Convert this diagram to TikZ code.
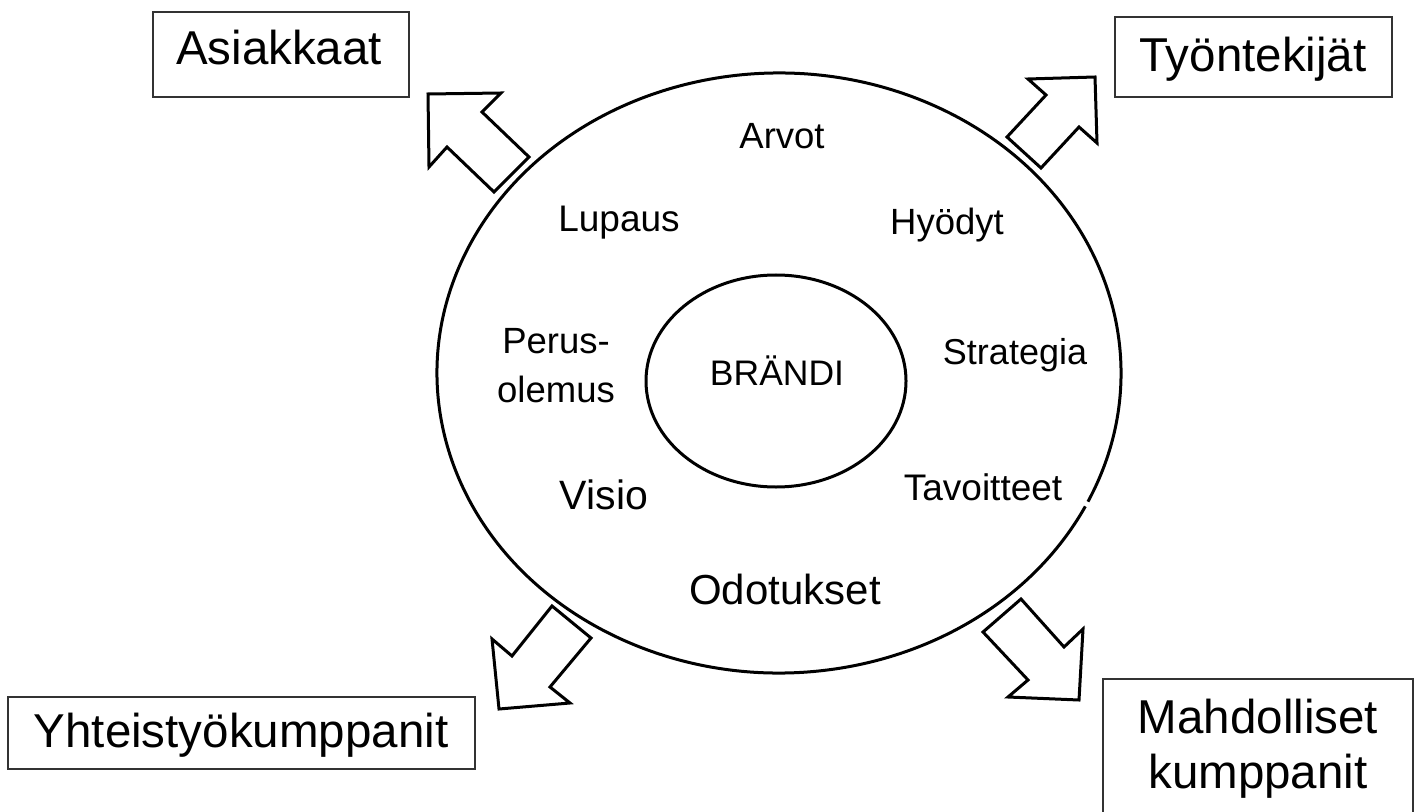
\documentclass[tikz,border=0pt]{standalone}
\usepackage{fontspec}
\setmainfont{Liberation Sans}
\usetikzlibrary{fit}
\newcommand\pxsize[1]{\fontsize{#1}{#1}\selectfont}

\begin{document}
\begin{tikzpicture}[x=0.5pt, y=-0.5pt,
    ring/.style={draw, line width=1.5pt},
    blockarrow/.style={draw, line width=1.5pt, line join=miter, fill=white},
    box/.style={draw=black!80, line width=0.9pt, inner sep=0pt},
    txt/.style={anchor=base, inner sep=0pt},
    big/.style={txt, font=\pxsize{23.75}},
    mid/.style={txt, font=\pxsize{18.25}}]
  \useasboundingbox (0,0) rectangle (1416,812);
  \clip (0,0) rectangle (1416,812);

  % outer ring, with the small break on its lower right side
  \coordinate (ringc) at (779,373);
  \draw[ring] (ringc) ++(26.4:342 and 300) arc[start angle=26.4, end angle=385.4, x radius=342, y radius=300];
  % inner ring around the brand
  \draw[ring] (776,381) ellipse[x radius=130, y radius=106];

  % labels inside the ring
  \node[txt, font=\pxsize{17.75}] (brandi) at (777,385) {BRÄNDI};
  \node[mid] (arvot) at (782,149) {Arvot};
  \node[mid, font=\pxsize{18.5}] (lupaus) at (619,232) {Lupaus};
  \node[mid] (hyodyt) at (947,235) {Hyödyt};
  \node[mid] (perus) at (556,353) {Perus-};
  \node[mid] (olemus) at (556,402) {olemus};
  \node[mid, font=\pxsize{18}] (strategia) at (1015,364) {Strategia};
  \node[txt, font=\pxsize{20.5}] (visio) at (604,509) {Visio};
  \node[mid, font=\pxsize{18.5}] (tavoitteet) at (983,500) {Tavoitteet};
  \node[txt, font=\pxsize{21}] (odotukset) at (785,604) {Odotukset};

  % target groups
  \node[box, fit={(153,12) (409,97)}] (asiakkaatbox) {};
  \node[big] (asiakkaat) at (279,65) {Asiakkaat};
  \node[box, fit={(1115,17) (1392,97)}] (tyontekijatbox) {};
  \node[big] (tyontekijat) at (1253,72) {Työntekijät};
  \node[box, fit={(8,697) (475,769)}] (yhteistyobox) {};
  \node[big] (yhteistyo) at (241,747) {Yhteistyökumppanit};
  \node[box, fit={(1103,679) (1413,830)}] (mahdollisetbox) {};
  \node[big] (mahdolliset) at (1258,733) {Mahdolliset};
  \node[big] (kumppanit) at (1258,788) {kumppanit};

  % block arrows pointing out of the ring
  \draw[blockarrow] (428,94) -- (501,93) -- (482,112) -- (529,157) -- (494,192) -- (447,147) -- (429,167) -- cycle;
  \draw[blockarrow] (1095,77) -- (1097,143) -- (1079,127) -- (1041,168) -- (1007,137) -- (1046,95) -- (1028,79) -- cycle;
  \draw[blockarrow] (499,709) -- (492,639) -- (512,656) -- (552,606) -- (591,638) -- (550,687) -- (570,703) -- cycle;
  \draw[blockarrow] (1079,700) -- (1008,697) -- (1028,680) -- (983,632) -- (1021,599) -- (1064,647) -- (1083,629) -- cycle;
\end{tikzpicture}
\end{document}
